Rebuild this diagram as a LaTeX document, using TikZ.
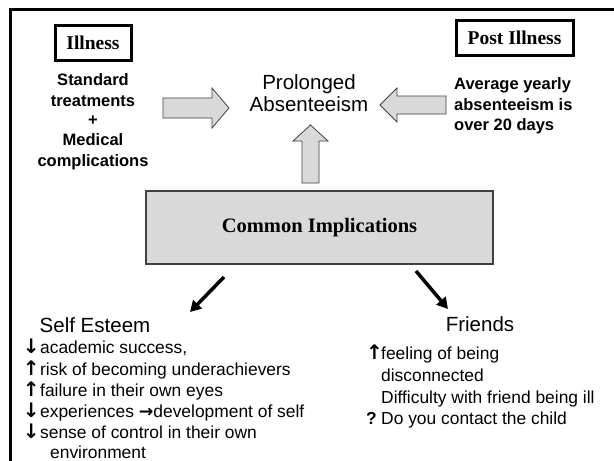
\documentclass[tikz,border=0pt]{standalone}
\usepackage{fontspec}
\setmainfont{Liberation Sans}
\newfontfamily\timesf{Liberation Serif}
\newfontfamily\symf{DejaVu Sans}
\usetikzlibrary{arrows.meta}
\definecolor{blockfill}{HTML}{D9D9D9}
\definecolor{blockline}{HTML}{404040}
\newcommand\myup{{\symf\bfseries\scalebox{1.15}{↑}}}
\newcommand\mydown{{\symf\bfseries\scalebox{1.15}{↓}}}
\newcommand\myright{{\symf\bfseries →}}
\tikzset{
  titlebox/.style={draw, line width=3pt, inner sep=0, font=\timesf\bfseries\fontsize{19.5}{22}\selectfont},
  boldline/.style={inner sep=0, anchor=base, font=\bfseries\fontsize{16.5}{20}\selectfont},
  boldleft/.style={inner sep=0, anchor=base west, font=\bfseries\fontsize{16.5}{20}\selectfont},
  headline/.style={inner sep=0, anchor=base, font=\fontsize{20.5}{24}\selectfont},
  listline/.style={inner sep=0, anchor=base west, font=\fontsize{17.4}{21}\selectfont},
  blockarrow/.style={draw=blockline, fill=blockfill, line width=0.8pt, line join=miter},
  diagarrow/.style={line width=3.5pt, -{Triangle[length=11pt,width=12pt]}},
}
\begin{document}
\begin{tikzpicture}[x=1pt,y=-1pt]
\useasboundingbox (0,0) rectangle (614,461);
% frame
\draw[line width=3pt] (10,470) -- (10,9) -- (620,9);
% title boxes
\node[titlebox, minimum width=76pt, minimum height=35pt] (ill) at (93,42.5) {Illness};
\node[titlebox, minimum width=117pt, minimum height=35pt] (post) at (514.5,37.5) {Post Illness};
% left text
\node[boldline] (s1) at (93,85) {Standard};
\node[boldline] (s2) at (93,106) {treatments};
\node[boldline] (s3) at (93,125) {+};
\node[boldline] (s4) at (93,145) {Medical};
\node[boldline] (s5) at (93,166) {complications};
% right text
\node[boldleft] (a1) at (454,89) {Average yearly};
\node[boldleft] (a2) at (454,110) {absenteeism is};
\node[boldleft] (a3) at (454,130) {over 20 days};
% centre text
\node[headline] (p1) at (309,89) {Prolonged};
\node[headline] (p2) at (309,111) {Absenteeism};
% block arrows
\draw[blockarrow] (163,98) -- (212,98) -- (212,88) -- (229,108) -- (212,128) -- (212,118) -- (163,118) -- cycle;
\draw[blockarrow] (446,96) -- (397,96) -- (397,88) -- (380,105) -- (397,122) -- (397,114) -- (446,114) -- cycle;
\draw[blockarrow] (302,183) -- (302,141) -- (293,141) -- (310.5,125) -- (328,141) -- (319,141) -- (319,183) -- cycle;
% common box
\node[draw=blockline, fill=blockfill, line width=1.2pt, minimum width=347pt, minimum height=73pt, inner sep=0,
  font=\timesf\bfseries\fontsize{20.5}{24}\selectfont] (common) at (319.5,227.5) {Common Implications};
% diagonal arrows
\coordinate (d1s) at (224,277);
\coordinate (d1e) at (190,312);
\coordinate (d2s) at (416,271);
\coordinate (d2e) at (448,309);
\draw[diagarrow] (d1s) -- (d1e);
\draw[diagarrow] (d2s) -- (d2e);
% headings
\node[headline] (self) at (95,332) {Self Esteem};
\node[headline] (fr) at (480,331) {Friends};
% self esteem list
\node[listline] (l1) at (22,353) {\makebox[18pt]{\mydown}academic success,};
\node[listline] (l2) at (22,375) {\makebox[18pt]{\myup}risk of becoming underachievers};
\node[listline] (l3) at (22,396) {\makebox[18pt]{\myup}failure in their own eyes};
\node[listline] (l4) at (22,417) {\makebox[18pt]{\mydown}experiences \myright development of self};
\node[listline] (l5) at (22,438) {\makebox[18pt]{\mydown}sense of control in their own};
\node[listline] (l6) at (50,458) {environment};
% friends list
\node[listline] (f1) at (366,359) {\makebox[15pt][l]{\myup}feeling of being};
\node[listline] (f2) at (381,381) {disconnected};
\node[listline] (f3) at (381,403) {Difficulty with friend being ill};
\node[listline] (f4) at (366,424) {\makebox[15pt][l]{\textbf{?}}Do you contact the child};
\end{tikzpicture}
\end{document}
